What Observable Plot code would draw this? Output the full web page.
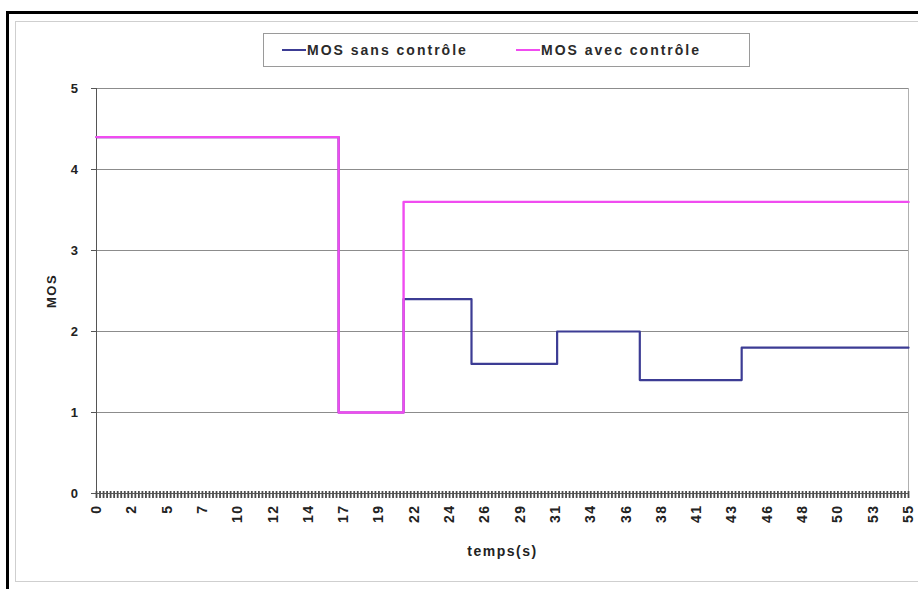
<!DOCTYPE html>
<html>
<head>
<meta charset="utf-8">
<script src="https://cdn.jsdelivr.net/npm/d3@7"></script>
<script src="https://cdn.jsdelivr.net/npm/@observablehq/plot@0.6"></script>
<style>
  html, body { margin: 0; padding: 0; background: #fff; overflow: hidden; }
  #wrap { position: relative; width: 918px; height: 589px; font-family: "Liberation Sans", Arial, sans-serif; }
  #outer { position: absolute; left: 6px; top: 11px; width: 930px; height: 600px; border-left: 3px solid #000; border-top: 3px solid #000; box-sizing: border-box; }
  #inner { position: absolute; left: 15px; top: 21px; width: 920px; height: 561px; border-left: 1px solid #cfcfcf; border-top: 1px solid #cfcfcf; border-bottom: 1px solid #cfcfcf; box-sizing: border-box; }
  #chart { position: absolute; left: 0; top: 0; }
  #chart svg text { letter-spacing: 1.5px; }
  #legend { position: absolute; left: 263px; top: 33px; width: 487px; height: 34px; border: 1px solid #9a9a9a; box-sizing: border-box; background: #fff;
            font-size: 14px; font-weight: bold; color: #2a2a2a; letter-spacing: 2px; }
  .item { position: absolute; top: 8px; white-space: nowrap; }
  .sw { display: inline-block; width: 24px; height: 0; border-top: 2px solid; vertical-align: middle; margin-right: 1px; position: relative; top: -1px; }
</style>
</head>
<body>
<div id="wrap">
  <div id="outer"></div>
  <div id="inner"></div>
  <div id="chart"></div>
  <div id="legend"></div>
</div>
<script>
// Series names
const seriesNames = ["MOS sans contrôle", "MOS avec contrôle"];
const seriesColors = ["#3c3c94", "#f04cf0"];

// Step change times (s) and MOS values – "MOS sans contrôle"
const sansTimes  = [0, 16.4, 20.8, 25.4, 31.2, 36.8, 43.7, 55];
const sansValues = [4.4, 1.0, 2.4, 1.6, 2.0, 1.4, 1.8, 1.8];

// Step change times (s) and MOS values – "MOS avec contrôle"
const avecTimes  = [0, 16.4, 20.8, 55];
const avecValues = [4.4, 1.0, 3.6, 3.6];

// X tick labels (category axis, evenly spaced)
const xLabels = [0, 2, 5, 7, 10, 12, 14, 17, 19, 22, 24, 26, 29, 31, 34, 36, 38, 41, 43, 46, 48, 50, 53, 55];
// Y ticks
const yTicks = [0, 1, 2, 3, 4, 5];
// number of category intervals on the axis (dense tick marks)
const nCategories = 230;

const tMax = 55;
const sans = sansTimes.map((t, i) => ({t, v: sansValues[i]}));
const avec = avecTimes.map((t, i) => ({t, v: avecValues[i]}));
const labelPos = xLabels.map((_, i) => i * tMax / (xLabels.length - 1));
const catPos = d3.range(nCategories + 1).map(i => i * tMax / nCategories);

const chart = Plot.plot({
  width: 918,
  height: 560,
  marginLeft: 96,
  marginRight: 10,
  marginTop: 88,
  marginBottom: 67,
  style: { fontFamily: "Liberation Sans, Arial, sans-serif", fontSize: "13px", fontWeight: "bold", color: "#222", background: "transparent", overflow: "visible" },
  x: { domain: [0, tMax] },
  y: { domain: [0, 5] },
  marks: [
    Plot.ruleY([1, 2, 3, 4, 5], { stroke: "#8c8c8c", strokeWidth: 1 }),
    Plot.ruleX([tMax], { stroke: "#b0b0b0", y1: 0, y2: 5 }),
    Plot.axisY({ ticks: yTicks, tickSize: 5, tickPadding: 12, stroke: "#555", tickFormat: d => String(d),
                 label: "MOS", labelAnchor: "center", labelArrow: "none", labelOffset: 50 }),
    Plot.ruleX([0], { stroke: "#555", y1: 0, y2: 5 }),
    Plot.axisX({ ticks: catPos, tickSize: 7, dy: -2, tickFormat: () => "", stroke: "#4a4a4a", strokeWidth: 1.8, label: null }),
    Plot.axisX({ ticks: labelPos, tickSize: 0, tickPadding: 11, tickRotate: -90, fontSize: 14,
                 tickFormat: d => String(xLabels[Math.round(d * (xLabels.length - 1) / tMax)]),
                 label: "temps(s)", labelAnchor: "center", labelArrow: "none", labelOffset: 62 }),
    Plot.ruleY([0], { stroke: "#555" }),
    Plot.line(sans, { x: "t", y: "v", curve: "step-after", stroke: seriesColors[0], strokeWidth: 2.2 }),
    Plot.line(avec, { x: "t", y: "v", curve: "step-after", stroke: seriesColors[1], strokeWidth: 2.4 })
  ]
});
document.getElementById("chart").appendChild(chart);

// Legend
const legend = document.getElementById("legend");
const itemLeft = [18, 252];
seriesNames.forEach((name, i) => {
  const it = document.createElement("div");
  it.className = "item";
  it.style.left = itemLeft[i] + "px";
  const sw = document.createElement("span");
  sw.className = "sw";
  sw.style.borderColor = seriesColors[i];
  it.appendChild(sw);
  it.appendChild(document.createTextNode(name));
  legend.appendChild(it);
});
</script>
</body>
</html>
